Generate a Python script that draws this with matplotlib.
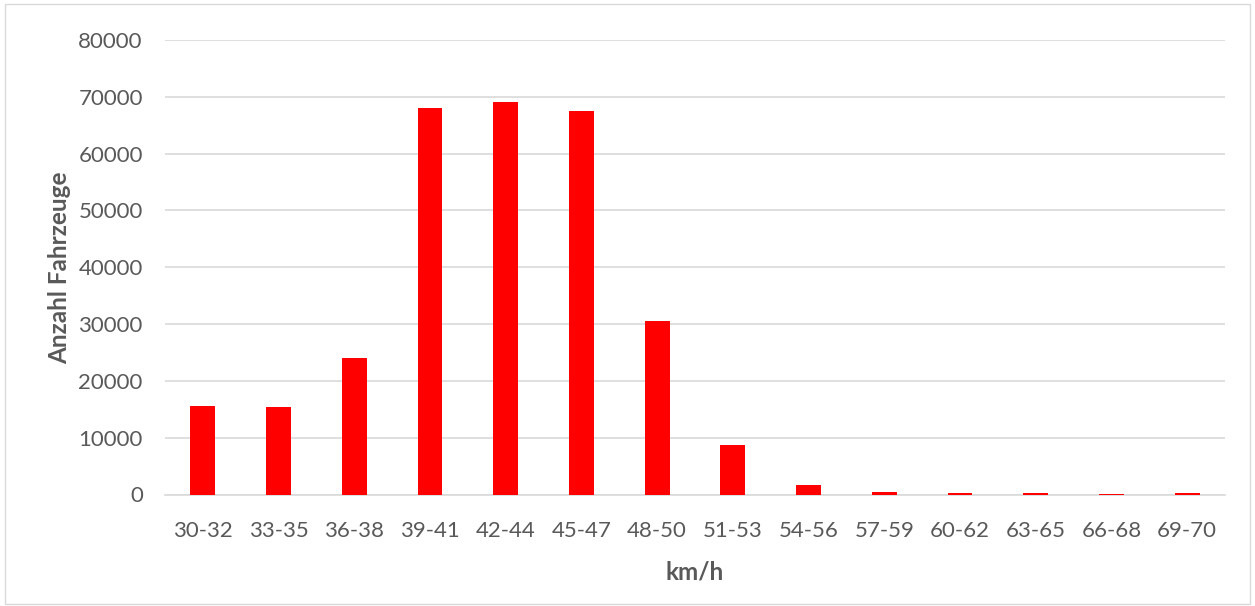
import matplotlib
matplotlib.use("Agg")
import matplotlib.pyplot as plt
from matplotlib.patches import Rectangle

categories = ["30-32", "33-35", "36-38", "39-41", "42-44", "45-47", "48-50",
              "51-53", "54-56", "57-59", "60-62", "63-65", "66-68", "69-70"]
counts = [15600, 15350, 24100, 67950, 69100, 67500, 30550,
          8800, 1700, 450, 250, 200, 100, 200]
yticks = [0, 10000, 20000, 30000, 40000, 50000, 60000, 70000, 80000]

plt.rcParams['font.family'] = ['Lato', 'DejaVu Sans']
fig = plt.figure(figsize=(12.55, 6.06), dpi=100)
ax = fig.add_axes([165/1255, 1 - 494.5/606, (1225-165)/1255, (494.5-40)/606])

x = list(range(len(categories)))
ax.bar(x, counts, width=0.33, color="#FF0000", zorder=3)
ax.set_xlim(-0.5, len(categories) - 0.5)
ax.set_ylim(0, 80000)
ax.set_yticks(yticks)
ax.set_yticklabels([str(v) for v in yticks])
ax.set_xticks(x)
ax.set_xticklabels(categories)
ax.grid(axis="y", color="#D9D9D9", linewidth=1.2, zorder=0)
for s in ["top", "right", "left"]:
    ax.spines[s].set_visible(False)
ax.spines["bottom"].set_color("#D9D9D9")
ax.spines["bottom"].set_linewidth(1.2)
ax.tick_params(axis="both", length=0, labelsize=16, colors="#595959")
ax.tick_params(axis="x", pad=19)
ax.tick_params(axis="y", pad=16)
ax.set_xlabel("km/h", fontsize=17.5, fontweight="bold", color="#595959", labelpad=14)
ax.set_ylabel("Anzahl Fahrzeuge", fontsize=17.5, fontweight="bold", color="#595959", labelpad=5)

fig.patches.append(Rectangle((0.004, 0.003), 0.992, 0.99, transform=fig.transFigure,
                             fill=False, edgecolor="#D9D9D9", linewidth=1))
fig.savefig("out.png", dpi=100)
